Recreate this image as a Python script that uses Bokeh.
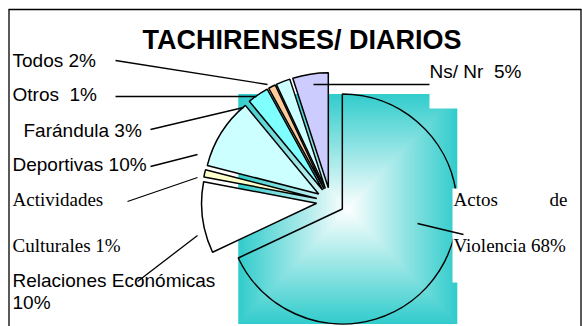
import math
from bokeh.plotting import figure
from bokeh.models import Range1d, ColumnDataSource
from bokeh.core.properties import value
from bokeh.embed import file_html
from bokeh.resources import INLINE

# ---------------- data ----------------
categories = ["Actos de Violencia", "Relaciones Económicas", "Actividades Culturales",
              "Deportivas", "Farándula", "Otros", "Todos", "Ns/ Nr"]
percents = [68, 10, 1, 10, 3, 1, 2, 5]
slice_colors = [None, "#FFFFFF", "#FFFFCC", "#CCFFFF", "#80FFFF", "#FFCC99", "#CCFFFF", "#CCCCFF"]
title_text = "TACHIRENSES/ DIARIOS"

# ---------------- layout (screen px -> data: x = px, y = 326 - py) ----------------
W, H = 582, 326
def Y(py):
    return H - py

p = figure(width=W, height=H, x_range=Range1d(0, W), y_range=Range1d(0, H),
           output_backend="svg", toolbar_location=None, min_border=0,
           x_axis_type=None, y_axis_type=None, outline_line_color=None)
p.grid.visible = False
p.background_fill_color = "white"
p.border_fill_color = "white"

CX, CY = 330, Y(201)   # pie centre
R = 115                # radius
EXPL = 14              # explosion distance

total = sum(percents)
starts, ends, xs, ys = [], [], [], []
cum = 0.0
for v in percents:
    a0 = math.pi / 2 - 2 * math.pi * cum / total
    a1 = math.pi / 2 - 2 * math.pi * (cum + v) / total
    mid = (a0 + a1) / 2
    starts.append(a0)
    ends.append(a1)
    xs.append(CX + EXPL * math.cos(mid))
    ys.append(CY + EXPL * math.sin(mid))
    cum += v

# gradient box = bounding box of the big slice
ax, ay = xs[0], ys[0]
bx0 = ax + R * math.cos(ends[0])
bx1 = ax + R
by0 = ay - R
by1 = ay + R
gcx, gcy = (bx0 + bx1) / 2, (by0 + by1) / 2
hw, hh = (bx1 - bx0) / 2, (by1 - by0) / 2
N = 70
teal = (51, 204, 204)
L, Rr, T, B, C = [], [], [], [], []
for k in range(N):
    t = 1 - k / N
    col = tuple(int(round(255 * (1 - t) + teal[i] * t)) for i in range(3))
    L.append(gcx - hw * t); Rr.append(gcx + hw * t)
    B.append(gcy - hh * t); T.append(gcy + hh * t)
    C.append("#%02x%02x%02x" % col)
p.quad(left=L, right=Rr, bottom=B, top=T, fill_color=C, line_color=None)

# slices (small ones filled, big one only outlined over gradient)
src = ColumnDataSource(dict(x=xs[1:], y=ys[1:], s=starts[1:], e=ends[1:], c=slice_colors[1:]))
p.wedge(x="x", y="y", radius=R, start_angle="s", end_angle="e", direction="clock",
        fill_color="c", line_color="black", line_width=1.5, source=src)
p.wedge(x=[xs[0]], y=[ys[0]], radius=R, start_angle=[starts[0]], end_angle=[ends[0]],
        direction="clock", fill_alpha=0, line_color="black", line_width=1.5)

# white label backgrounds
p.quad(left=[429, 452], right=[540, 579], top=[Y(60), Y(188)], bottom=[Y(108), Y(282)],
       fill_color="white", line_color=None)

# leader lines
lx0 = [115, 115, 150, 150, 127, 137, 313, 417]
ly0 = [60, 96, 129, 166, 201, 281, 84, 223]
lx1 = [267, 256, 243, 197, 197, 197, 429, 463]
ly1 = [84, 96, 107, 154, 177, 235, 84, 234]
p.segment(x0=lx0, y0=[Y(v) for v in ly0], x1=lx1, y1=[Y(v) for v in ly1],
          line_color="black", line_width=1.3)

# frame
p.segment(x0=[8.5, 8, 580.5], y0=[Y(9), Y(9), Y(9)], x1=[8.5, 581, 580.5], y1=[Y(330), Y(9), Y(330)],
          line_color="black", line_width=1.3)

# text placement correction (renderer places baseline lower than requested)
SH19 = 8
SH27 = 11

# title
p.text(x=[301.5], y=[Y(50 - SH27)], text=[title_text], text_font=value("Liberation Sans"),
       text_font_size="27px", text_font_style="bold", text_align="center",
       text_baseline="alphabetic", text_color="black")

# sans labels
sans_text = ["Todos 2%", "Otros \u00a01%", "Farándula 3%", "Deportivas 10%",
             "Relaciones Económicas", "10%", "Ns/ Nr \u00a05%"]
sans_x = [12, 12, 23, 12, 12, 12, 429]
sans_y = [68, 102, 137.5, 171.5, 288, 310, 79]
p.text(x=sans_x, y=[Y(v - SH19) for v in sans_y], text=sans_text, text_font=value("Liberation Sans"),
       text_font_size="19px", text_align="left", text_baseline="alphabetic", text_color="black")

# serif labels
serif_text = ["Actividades", "Culturales 1%", "Actos", "Violencia 68%"]
serif_x = [12, 12, 453, 453]
serif_y = [206.5, 252.5, 206.5, 252.5]
p.text(x=serif_x, y=[Y(v - SH19) for v in serif_y], text=serif_text, text_font=value("Liberation Serif"),
       text_font_size="19px", text_align="left", text_baseline="alphabetic", text_color="black")
p.text(x=[567], y=[Y(206.5 - SH19)], text=["de"], text_font=value("Liberation Serif"),
       text_font_size="19px", text_align="right", text_baseline="alphabetic", text_color="black")

open("out.html", "w").write(file_html(p, INLINE))
